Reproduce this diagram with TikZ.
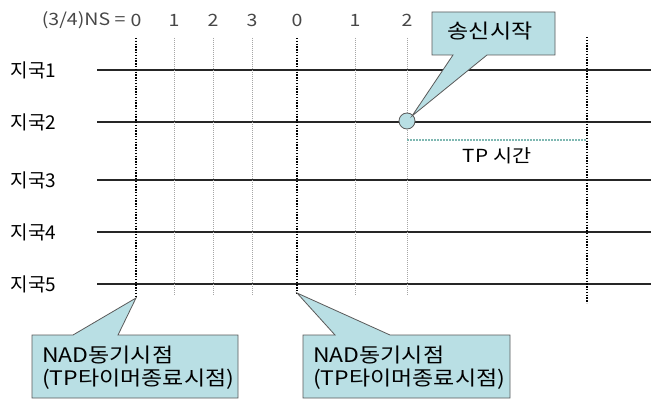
\documentclass[tikz,border=0pt]{standalone}
\usepackage{fontspec}
\setmainfont{Noto Sans CJK KR}
\newfontfamily\krwide[FakeStretch=1.15]{Noto Sans CJK KR}
\definecolor{callfill}{HTML}{B9DFE4}
\definecolor{callline}{HTML}{5A5A5A}
\definecolor{tpteal}{HTML}{7FB8B2}
\begin{document}
\begin{tikzpicture}[x=1pt,y=-1pt,
  station/.style={anchor=west,font=\fontsize{19}{19}\selectfont},
  tick/.style={font=\krwide\fontsize{17}{17}\selectfont,text=black!72},
  hline/.style={line width=1.1pt,black!85},
  thickdot/.style={line width=2.2pt,black,dash pattern=on 1.4pt off 1.4pt},
  thindot/.style={line width=0.7pt,gray!70,dash pattern=on 1pt off 1pt},
  callout/.style={fill=callfill,draw=callline,line width=0.8pt,line join=miter},
  calltext/.style={font=\krwide\fontsize{20}{23}\selectfont,align=left,anchor=west,inner sep=0pt}]
\useasboundingbox[fill=white] (0,0) rectangle (651,401);

% station labels and lines
\foreach \i/\y in {1/70,2/122,3/180,4/232,5/284}{
  \node[station] (s\i) at (7,\y) {지국\i};
  \coordinate (l\i) at (97,\y);
  \coordinate (r\i) at (651,\y);
  \draw[hline] (l\i) -- (r\i);
}

% top labels
\node[tick,anchor=east] (ns) at (129,20) {(3/4)NS =};
\node[tick] (t0) at (136,20) {0};
\node[tick] (t1) at (174,20) {1};
\node[tick] (t2) at (213,20) {2};
\node[tick] (t3) at (252,20) {3};
\node[tick] (u0) at (297,20) {0};
\node[tick] (u1) at (355,20) {1};
\node[tick] (u2) at (407,20) {2};

% vertical lines
\coordinate (v0a) at (136,38); \coordinate (v0b) at (136,298);
\coordinate (v1a) at (174,38); \coordinate (v1b) at (174,296);
\coordinate (v2a) at (213,38); \coordinate (v2b) at (213,296);
\coordinate (v3a) at (252,38); \coordinate (v3b) at (252,296);
\coordinate (w0a) at (297,38); \coordinate (w0b) at (297,293);
\coordinate (w1a) at (355,38); \coordinate (w1b) at (355,296);
\coordinate (w2a) at (407,38); \coordinate (w2b) at (407,296);
\coordinate (x0a) at (587,37); \coordinate (x0b) at (587,303);
\draw[thindot] (v1a) -- (v1b);
\draw[thindot] (v2a) -- (v2b);
\draw[thindot] (v3a) -- (v3b);
\draw[thindot] (w1a) -- (w1b);
\draw[thindot] (w2a) -- (w2b);
\draw[thickdot] (v0a) -- (v0b);
\draw[thickdot] (w0a) -- (w0b);
\draw[thickdot] (x0a) -- (x0b);

% TP time
\coordinate (tpa) at (407,140);
\coordinate (tpb) at (587,140);
\draw[line width=1.6pt,tpteal,dash pattern=on 1.5pt off 1.5pt] (tpa) -- (tpb);
\node[font=\krwide\fontsize{18}{18}\selectfont] (tp) at (497,156) {TP 시간};

% start circle and callout
\node[circle,fill=callfill,draw=callline,line width=0.8pt,minimum size=16pt,inner sep=0pt] (start) at (407,121) {};
\coordinate (c1tip) at (412,116);
\draw[callout] (432,12) -- (555,12) -- (555,55) -- (487,55) -- (c1tip) -- (453,55) -- (432,55) -- cycle;
\node[font=\krwide\fontsize{20}{20}\selectfont] (c1) at (490,31) {송신시작};

% bottom callouts
\draw[callout] (32,335) -- (73,335) -- (v0b) -- (118,335) -- (238,335) -- (238,398) -- (32,398) -- cycle;
\node[calltext] (c2) at (42,368) {NAD동기시점\\(TP타이머종료시점)};
\draw[callout] (303,335) -- (335,335) -- (w0b) -- (390,335) -- (510,335) -- (510,398) -- (303,398) -- cycle;
\node[calltext] (c3) at (313,368) {NAD동기시점\\(TP타이머종료시점)};
\end{tikzpicture}
\end{document}
